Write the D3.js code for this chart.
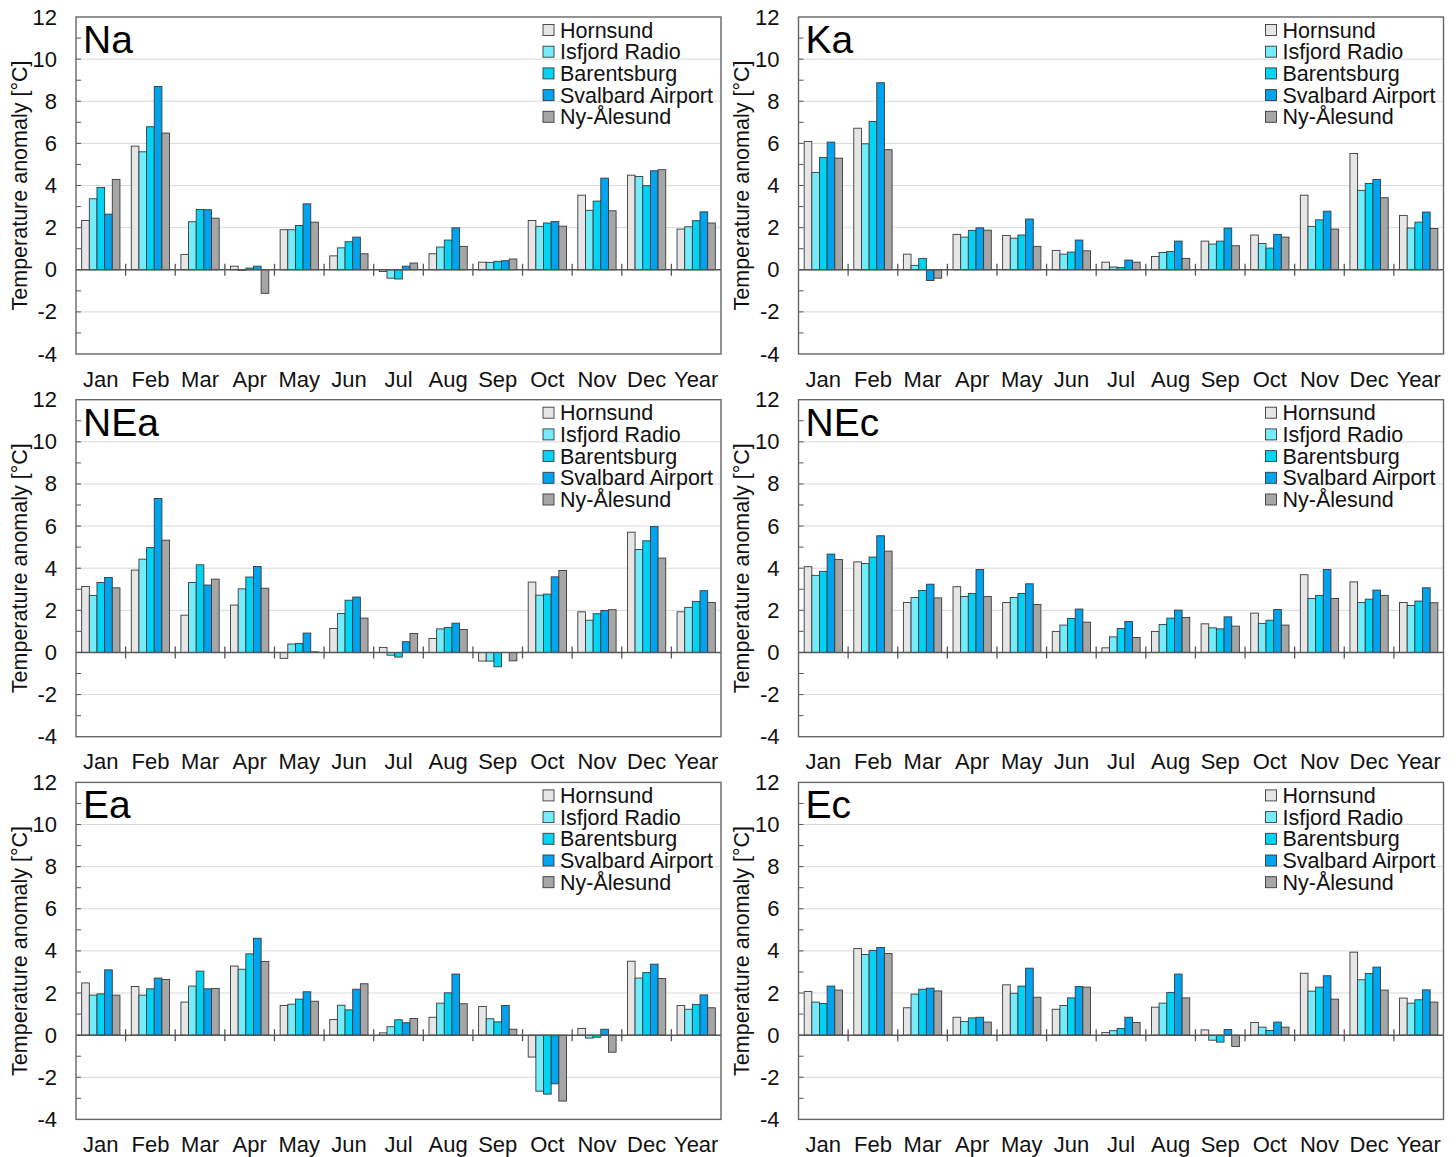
<!DOCTYPE html>
<html>
<head>
<meta charset="utf-8">
<script src="https://cdnjs.cloudflare.com/ajax/libs/d3/7.8.5/d3.min.js"></script>
<style>
  body { margin: 0; background: #fff; }
  text { font-family: "Liberation Sans", Arial, sans-serif; }
</style>
</head>
<body>
<svg id="chart" width="1456" height="1157"></svg>
<script>
var months = ["Jan", "Feb", "Mar", "Apr", "May", "Jun", "Jul", "Aug", "Sep", "Oct", "Nov", "Dec", "Year"];
var stations = ["Hornsund", "Isfjord Radio", "Barentsburg", "Svalbard Airport", "Ny-Ålesund"];
var colors = ["#e6e6e6", "#74ecfb", "#00d3f4", "#00a3ee", "#a6a6a6"];
var yTicks = [-4, -2, 0, 2, 4, 6, 8, 10, 12];
var panelNames = ["Na", "Ka", "NEa", "NEc", "Ea", "Ec"];

// one row per station, one value per month (+ Year)
var na = [
  [2.34, 5.87, 0.73, 0.17, 1.90, 0.66, -0.08, 0.76, 0.36, 2.34, 3.54, 4.49, 1.93],
  [3.37, 5.60, 2.28, -0.03, 1.90, 1.04, -0.40, 1.08, 0.35, 2.06, 2.82, 4.43, 2.04],
  [3.91, 6.79, 2.86, 0.08, 2.10, 1.33, -0.44, 1.41, 0.40, 2.22, 3.26, 3.99, 2.33],
  [2.64, 8.70, 2.85, 0.17, 3.13, 1.55, 0.17, 1.99, 0.43, 2.29, 4.35, 4.70, 2.75],
  [4.29, 6.49, 2.45, -1.12, 2.26, 0.76, 0.32, 1.11, 0.51, 2.07, 2.80, 4.75, 2.22]
];
var ka = [
  [6.09, 6.72, 0.74, 1.68, 1.63, 0.92, 0.36, 0.63, 1.36, 1.65, 3.54, 5.52, 2.58],
  [4.62, 5.98, 0.21, 1.55, 1.50, 0.74, 0.13, 0.82, 1.22, 1.25, 2.06, 3.77, 1.98],
  [5.33, 7.04, 0.54, 1.87, 1.65, 0.84, 0.11, 0.87, 1.36, 1.03, 2.37, 4.10, 2.26],
  [6.06, 8.88, -0.51, 1.99, 2.41, 1.41, 0.46, 1.36, 1.98, 1.68, 2.78, 4.29, 2.74],
  [5.30, 5.70, -0.40, 1.88, 1.11, 0.90, 0.36, 0.54, 1.14, 1.55, 1.93, 3.42, 1.96]
];
var nea = [
  [3.13, 3.91, 1.77, 2.25, -0.28, 1.14, 0.24, 0.66, -0.41, 3.34, 1.93, 5.71, 1.93],
  [2.71, 4.43, 3.32, 3.02, 0.40, 1.85, -0.13, 1.12, -0.41, 2.72, 1.53, 4.89, 2.14],
  [3.32, 4.98, 4.16, 3.58, 0.43, 2.48, -0.22, 1.19, -0.68, 2.77, 1.84, 5.30, 2.42],
  [3.56, 7.31, 3.20, 4.08, 0.92, 2.63, 0.51, 1.39, 0.00, 3.59, 1.99, 5.98, 2.93],
  [3.07, 5.33, 3.48, 3.05, 0.03, 1.63, 0.90, 1.09, -0.40, 3.89, 2.03, 4.48, 2.37]
];
var nec = [
  [4.07, 4.30, 2.37, 3.12, 2.37, 1.00, 0.22, 1.00, 1.36, 1.87, 3.69, 3.35, 2.37],
  [3.66, 4.22, 2.61, 2.66, 2.61, 1.30, 0.74, 1.33, 1.17, 1.38, 2.56, 2.37, 2.23],
  [3.85, 4.53, 2.94, 2.80, 2.80, 1.61, 1.14, 1.63, 1.12, 1.53, 2.71, 2.53, 2.44],
  [4.67, 5.54, 3.24, 3.94, 3.26, 2.06, 1.47, 2.01, 1.69, 2.04, 3.94, 2.96, 3.07],
  [4.41, 4.81, 2.59, 2.66, 2.28, 1.44, 0.71, 1.66, 1.25, 1.30, 2.56, 2.71, 2.36]
];
var ea = [
  [2.48, 2.31, 1.57, 3.28, 1.41, 0.74, 0.11, 0.85, 1.36, -1.04, 0.32, 3.51, 1.41],
  [1.90, 1.90, 2.33, 3.13, 1.47, 1.42, 0.40, 1.52, 0.78, -2.66, -0.14, 2.71, 1.23],
  [1.96, 2.20, 3.04, 3.86, 1.71, 1.20, 0.73, 2.01, 0.63, -2.80, -0.10, 2.97, 1.46],
  [3.10, 2.71, 2.20, 4.60, 2.06, 2.18, 0.59, 2.90, 1.41, -2.31, 0.28, 3.37, 1.91],
  [1.90, 2.64, 2.22, 3.50, 1.61, 2.44, 0.79, 1.49, 0.28, -3.13, -0.81, 2.69, 1.30]
];
var ec = [
  [2.07, 4.11, 1.30, 0.85, 2.39, 1.23, 0.13, 1.33, 0.25, 0.60, 2.94, 3.94, 1.76],
  [1.57, 3.83, 1.95, 0.65, 1.99, 1.41, 0.21, 1.52, -0.24, 0.38, 2.09, 2.63, 1.52],
  [1.50, 4.02, 2.18, 0.82, 2.33, 1.77, 0.32, 2.03, -0.33, 0.22, 2.28, 2.93, 1.68],
  [2.33, 4.16, 2.23, 0.85, 3.18, 2.31, 0.85, 2.90, 0.27, 0.62, 2.82, 3.23, 2.15],
  [2.14, 3.88, 2.10, 0.62, 1.80, 2.28, 0.60, 1.77, -0.54, 0.38, 1.71, 2.14, 1.57]
];
var panelData = [na, ka, nea, nec, ea, ec];

var svg = d3.select("#chart"),
    width = 645,
    height = 337,
    fontSize = 22,
    lefts = [76, 798.5],
    tops = [17, 399.7, 782.4];

var x0 = d3.scaleBand().domain(months).range([0, width]).padding(0);
var x1 = d3.scaleBand().domain(stations).range([0, x0.bandwidth()]).paddingInner(0).paddingOuter(0.74);
var y = d3.scaleLinear().domain([-4, 12]).range([height, 0]);
var color = d3.scaleOrdinal().domain(stations).range(colors);

function panel(i) {
  var data = panelData[i];
  var g = svg.append("g")
      .attr("transform", "translate(" + lefts[i % 2] + "," + tops[Math.floor(i / 2)] + ")");

  // grid lines at even values
  g.append("g")
      .selectAll("line")
      .data(yTicks.filter(function(d) { return d !== 0 && d !== -4 && d !== 12; }))
      .enter().append("line")
      .attr("x1", 0).attr("x2", width)
      .attr("y1", function(d) { return y(d); })
      .attr("y2", function(d) { return y(d); })
      .attr("stroke", "#d9d9d9")
      .attr("stroke-width", 1);

  // bars
  data.forEach(function(vals, s) {
    g.append("g").selectAll("rect")
        .data(vals)
        .enter().append("rect")
        .attr("x", function(d, m) { return x0(months[m]) + x1(stations[s]); })
        .attr("y", function(d) { return y(Math.max(0, d)); })
        .attr("width", x1.bandwidth())
        .attr("height", function(d) { return Math.abs(y(d) - y(0)); })
        .attr("fill", color(stations[s]))
        .attr("stroke", "#3a3a3a")
        .attr("stroke-width", 0.9);
  });

  // zero line
  g.append("line")
      .attr("x1", 0).attr("x2", width)
      .attr("y1", y(0)).attr("y2", y(0))
      .attr("stroke", "#555")
      .attr("stroke-width", 1.5);

  // ticks between categories on the zero line
  g.append("g").selectAll("line")
      .data(months.slice(1))
      .enter().append("line")
      .attr("x1", function(d) { return x0(d); })
      .attr("x2", function(d) { return x0(d); })
      .attr("y1", y(0) - 6)
      .attr("y2", y(0) + 6)
      .attr("stroke", "#555")
      .attr("stroke-width", 1.3);

  // minor ticks inside the left edge
  g.append("g").selectAll("line")
      .data(d3.range(-3, 12))
      .enter().append("line")
      .attr("x1", 0).attr("x2", 5)
      .attr("y1", function(d) { return y(d); })
      .attr("y2", function(d) { return y(d); })
      .attr("stroke", "#555")
      .attr("stroke-width", 1);

  // frame
  g.append("rect")
      .attr("width", width).attr("height", height)
      .attr("fill", "none")
      .attr("stroke", "#666")
      .attr("stroke-width", 1.4);

  // y axis labels (plain hyphen for negatives)
  var yAxis = g.append("g")
      .call(d3.axisLeft(y).tickValues(yTicks).tickSize(0).tickPadding(19)
        .tickFormat(function(d) { return String(d); }));
  yAxis.select(".domain").remove();
  yAxis.selectAll("text").attr("font-size", fontSize).attr("fill", "#111")
      .style("font-family", "'Liberation Sans', Arial, sans-serif");

  // month labels
  var xAxis = g.append("g")
      .attr("transform", "translate(0," + height + ")")
      .call(d3.axisBottom(x0).tickSize(0).tickPadding(17));
  xAxis.select(".domain").remove();
  xAxis.selectAll("text").attr("font-size", fontSize).attr("fill", "#111")
      .style("font-family", "'Liberation Sans', Arial, sans-serif");

  // axis title
  g.append("text")
      .attr("transform", "translate(" + (-57) + "," + (height / 2) + ") rotate(-90)")
      .attr("text-anchor", "middle")
      .attr("dy", "0.35em")
      .attr("font-size", 21.5)
      .attr("fill", "#111")
      .text("Temperature anomaly [°C]");

  // panel name
  g.append("text")
      .attr("x", 7)
      .attr("y", 36)
      .attr("font-size", 39)
      .attr("fill", "#000")
      .text(panelNames[i]);

  // legend
  var legend = g.append("g").selectAll("g")
      .data(stations)
      .enter().append("g")
      .attr("transform", function(d, k) { return "translate(467," + (13 + k * 21.7) + ")"; });
  legend.append("rect")
      .attr("x", 0).attr("y", -5.5)
      .attr("width", 11).attr("height", 11)
      .attr("fill", function(d) { return color(d); })
      .attr("stroke", "#3a3a3a")
      .attr("stroke-width", 0.9);
  legend.append("text")
      .attr("x", 17)
      .attr("dy", "0.35em")
      .attr("font-size", 21.5)
      .attr("fill", "#111")
      .text(function(d) { return d; });
}

for (var i = 0; i < panelNames.length; i++) panel(i);
</script>
</body>
</html>
